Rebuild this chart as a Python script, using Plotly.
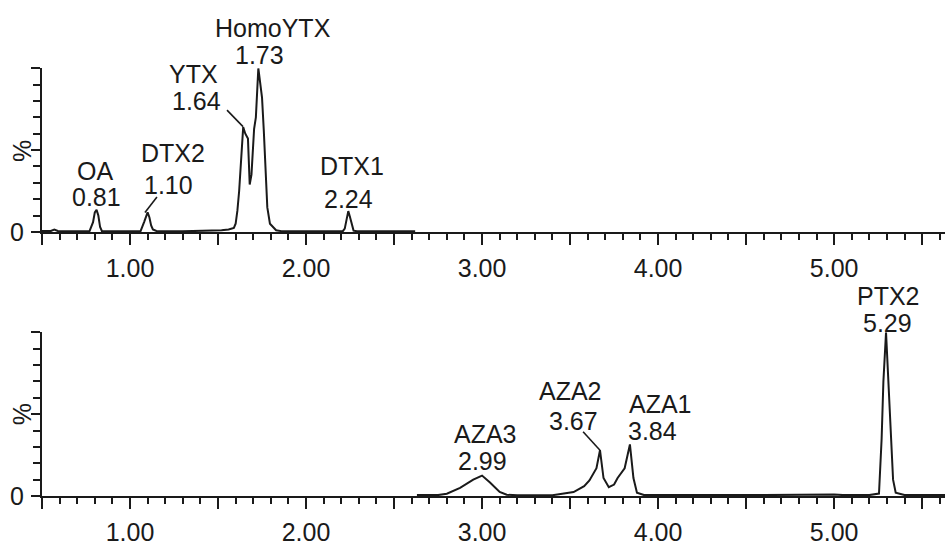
import plotly.graph_objects as go

# ---------------- data ----------------
top_time = [0.50, 0.55, 0.57, 0.59, 0.70, 0.77, 0.79, 0.80, 0.81, 0.82, 0.83, 0.84,
            0.95, 1.06, 1.08, 1.10, 1.11, 1.12, 1.13, 1.15, 1.30, 1.45, 1.52, 1.56,
            1.59, 1.60, 1.61, 1.62, 1.63, 1.643, 1.655, 1.67, 1.68, 1.69, 1.705, 1.715,
            1.729, 1.74, 1.75, 1.76, 1.77, 1.78, 1.795, 1.81, 1.83, 1.86, 2.00, 2.15,
            2.21, 2.22, 2.23, 2.24, 2.25, 2.26, 2.27, 2.29, 2.40, 2.62]
top_pct = [0.6, 0.6, 1.5, 0.6, 0.4, 0.5, 6, 12, 13.5, 10, 3, 0.6,
           0.4, 0.5, 6, 12, 9, 4, 1.5, 0.6, 0.4, 0.6, 1.0, 1.5,
           2.5, 5, 13, 25, 42, 64, 60, 57, 29, 35, 63, 70,
           100, 92, 82, 62, 42, 15, 5, 3.5, 1.0, 0.5, 0.4, 0.4,
           0.6, 2, 8, 12.7, 9, 4, 0.8, 0.4, 0.4, 0.4]

bot_time = [2.63, 2.75, 2.80, 2.875, 2.95, 3.00, 3.045, 3.10, 3.14, 3.20, 3.40, 3.52,
            3.58, 3.61, 3.65, 3.67, 3.69, 3.72, 3.75, 3.77, 3.81, 3.84, 3.86, 3.88,
            3.92, 4.20, 4.60, 5.00, 5.05, 5.20, 5.255, 5.27, 5.28, 5.295, 5.305, 5.315,
            5.325, 5.335, 5.35, 5.40, 5.63]
bot_pct = [0.6, 0.6, 1.4, 5, 10, 12.5, 8.3, 2.5, 0.8, 0.5, 0.5, 2.4,
           6, 9.5, 17, 28, 11, 5.4, 7, 11, 17, 31.5, 11, 2,
           0.6, 0.5, 0.6, 0.9, 0.6, 0.6, 1.5, 35, 70, 100, 78, 52,
           28, 10, 2, 0.6, 0.6]

top_names = ["OA", "DTX2", "YTX", "HomoYTX", "DTX1"]
top_rts = ["0.81", "1.10", "1.64", "1.73", "2.24"]
bot_names = ["AZA3", "AZA2", "AZA1", "PTX2"]
bot_rts = ["2.99", "3.67", "3.84", "5.29"]

x_major = [0.5, 1.0, 1.5, 2.0, 2.5, 3.0, 3.5, 4.0, 4.5, 5.0, 5.5]
x_major_text = ["", "1.00", "", "2.00", "", "3.00", "", "4.00", "", "5.00", ""]

# ---------------- label placement (layout) ----------------
# (name_x [data], name_y [fraction of panel height], rt_x, rt_y)
top_pos = [(0.801, 0.375, 0.807, 0.211),
           (1.244, 0.485, 1.216, 0.286),
           (1.358, 0.964, 1.375, 0.801),
           (1.8125, 1.244, 1.733, 1.080),
           (2.261, 0.405, 2.239, 0.199)]
bot_pos = [(3.017, 0.378, 3.000, 0.211),
           (3.500, 0.643, 3.517, 0.461),
           (4.011, 0.562, 3.966, 0.396),
           (5.307, 1.220, 5.301, 1.057)]
top_leaders = [(1.153, 21.4, 1.085, 11.9), (1.551, 74.4, 1.642, 64.3)]
bot_leaders = [(3.574, 39.3, 3.670, 28.0)]

FONT = "Arial, Liberation Sans, Helvetica, sans-serif"
INK = "#1a1a1a"
LBL = 25

fig = go.Figure()
fig.add_trace(go.Scatter(x=top_time, y=top_pct, mode="lines",
                         line=dict(color=INK, width=2), xaxis="x", yaxis="y",
                         showlegend=False, hoverinfo="skip"))
fig.add_trace(go.Scatter(x=bot_time, y=bot_pct, mode="lines",
                         line=dict(color=INK, width=2), xaxis="x2", yaxis="y2",
                         showlegend=False, hoverinfo="skip"))

xrange = [0.5, 5.63]


def xaxis_def(anchor):
    return dict(range=xrange, anchor=anchor, domain=[42 / 945, 1.0],
                showgrid=False, zeroline=False, showline=True,
                linecolor=INK, linewidth=2,
                tickmode="array", tickvals=x_major, ticktext=x_major_text,
                ticks="outside", ticklen=11, tickwidth=2, tickcolor=INK,
                ticklabelstandoff=2,
                tickfont=dict(family=FONT, size=LBL, color=INK),
                minor=dict(dtick=0.1, tick0=0, ticks="outside", ticklen=6,
                           tickwidth=1.5, tickcolor=INK, showgrid=False))


def yaxis_def(anchor, dom):
    return dict(range=[0, 100], anchor=anchor, domain=dom,
                showgrid=False, zeroline=False, showline=True,
                linecolor=INK, linewidth=2,
                tickmode="array", tickvals=[0, 50, 100], ticktext=["0", "", ""],
                ticks="outside", ticklen=9, tickwidth=2, tickcolor=INK,
                ticklabelstandoff=2,
                tickfont=dict(family=FONT, size=LBL, color=INK),
                minor=dict(dtick=10, tick0=0, ticks="outside", ticklen=7,
                           tickwidth=1.5, tickcolor=INK, showgrid=False))


H = 550.0
fig.update_layout(
    width=945, height=550,
    margin=dict(l=0, r=0, t=0, b=0),
    paper_bgcolor="white", plot_bgcolor="white",
    font=dict(family=FONT, size=LBL, color=INK),
    xaxis=xaxis_def("y"),
    yaxis=yaxis_def("x", [1 - 238 / H, 1 - 70 / H]),
    xaxis2=xaxis_def("y2"),
    yaxis2=yaxis_def("x2", [1 - 509 / H, 1 - 341 / H]),
)

ann = []
for (nm, rt, p) in zip(top_names, top_rts, top_pos):
    for tx, xx, yy in ((nm, p[0], p[1]), (rt, p[2], p[3])):
        ann.append(dict(x=xx, y=yy, xref="x", yref="y domain", text=tx, showarrow=False,
                        xanchor="center", yanchor="middle",
                        font=dict(size=LBL, family=FONT, color=INK)))
for (nm, rt, p) in zip(bot_names, bot_rts, bot_pos):
    for tx, xx, yy in ((nm, p[0], p[1]), (rt, p[2], p[3])):
        ann.append(dict(x=xx, y=yy, xref="x2", yref="y2 domain", text=tx, showarrow=False,
                        xanchor="center", yanchor="middle",
                        font=dict(size=LBL, family=FONT, color=INK)))
# "%" axis labels
for yc in [1 - 155 / H, 1 - 425 / H]:
    ann.append(dict(x=22 / 945, y=yc, xref="paper", yref="paper", text="%",
                    textangle=-90, showarrow=False, xanchor="center", yanchor="middle",
                    font=dict(size=LBL, family=FONT, color=INK)))
fig.update_layout(annotations=ann)

shapes = []
for l in top_leaders:
    shapes.append(dict(type="line", xref="x", yref="y", x0=l[0], y0=l[1], x1=l[2], y1=l[3],
                       line=dict(color=INK, width=1.6)))
for l in bot_leaders:
    shapes.append(dict(type="line", xref="x2", yref="y2", x0=l[0], y0=l[1], x1=l[2], y1=l[3],
                       line=dict(color=INK, width=1.6)))
fig.update_layout(shapes=shapes)

fig.write_html("out.html")
